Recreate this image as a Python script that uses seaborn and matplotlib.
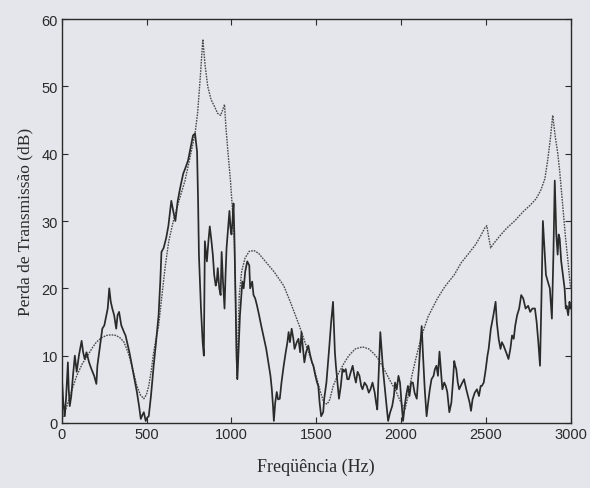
import numpy as np
import pandas as pd
import matplotlib
matplotlib.use("Agg")
import matplotlib.pyplot as plt
import seaborn as sns

# Measured transmission loss (noisy curve)
meas_f = [0, 8, 17, 25, 35, 40, 46, 55, 65, 76, 87, 100, 116, 125, 134, 145, 160, 174, 190, 203,
          209, 222, 238, 250, 262, 270, 279, 288, 297, 308, 320, 328, 337, 350, 366, 375, 384, 398,
          413, 428, 442, 455, 465, 475, 483, 494, 503, 512, 525, 541, 555, 570, 580, 587, 600, 615,
          628, 645, 657, 669, 683, 698, 715, 730, 744, 760, 773, 785, 797, 803, 808, 820, 830, 837,
          843, 855, 864, 872, 882, 890, 898, 907, 913, 919, 928, 936, 942, 950, 959, 965, 971, 980,
          988, 994, 1000, 1006, 1012, 1017, 1024, 1030, 1035, 1042, 1050, 1064, 1072, 1081, 1093,
          1105, 1110, 1122, 1130, 1140, 1150, 1163, 1175, 1192, 1205, 1221, 1230, 1238, 1245, 1250,
          1258, 1267, 1275, 1285, 1295, 1308, 1320, 1330, 1337, 1345, 1355, 1365, 1372, 1385, 1395,
          1405, 1413, 1420, 1430, 1440, 1453, 1465, 1475, 1483, 1495, 1505, 1512, 1520, 1529, 1541,
          1547, 1560, 1576, 1588, 1599, 1605, 1610, 1616, 1625, 1634, 1645, 1655, 1663, 1674, 1683,
          1692, 1703, 1715, 1725, 1734, 1744, 1755, 1765, 1773, 1785, 1798, 1810, 1820, 1832, 1845,
          1853, 1860, 1868, 1878, 1885, 1895, 1905, 1915, 1924, 1935, 1948, 1958, 1965, 1975, 1985,
          1994, 2003, 2012, 2022, 2030, 2041, 2050, 2060, 2070, 2080, 2093, 2105, 2115, 2122, 2130,
          2140, 2151, 2160, 2170, 2180, 2192, 2200, 2209, 2218, 2227, 2235, 2244, 2255, 2264, 2273,
          2285, 2297, 2306, 2314, 2320, 2326, 2335, 2343, 2352, 2362, 2372, 2385, 2395, 2405, 2413,
          2422, 2435, 2448, 2460, 2470, 2477, 2488, 2500, 2510, 2517, 2530, 2545, 2558, 2565, 2576,
          2587, 2595, 2605, 2620, 2634, 2645, 2655, 2665, 2674, 2685, 2697, 2709, 2721, 2735, 2750,
          2762, 2775, 2790, 2800, 2810, 2820, 2828, 2837, 2846, 2855, 2866, 2878, 2890, 2899, 2907,
          2916, 2924, 2930, 2936, 2945, 2955, 2965, 2972, 2977, 2986, 2994, 3000]
meas_db = [6.5, 3, 1, 4, 9, 5, 2.5, 4, 7, 10, 7.6, 10, 12.2, 10.5, 9.5, 10.5, 9, 8, 7, 5.8,
           8.5, 11, 14, 14.5, 16, 17, 20, 18, 17, 16, 14, 16, 16.5, 14.5, 13.5, 13, 12, 10.5,
           8.5, 6.5, 4.6, 2.5, 0.6, 1.2, 1.6, 0.3, 0.8, 1, 4, 8.5, 12, 16, 21, 25.4, 26, 27.5,
           29.3, 33, 31.4, 30, 33, 35, 37, 38, 39, 41, 42.7, 43, 40.3, 33, 25, 17, 12, 10,
           27, 24, 27, 29.2, 27, 25, 22, 20.4, 21, 23, 20, 19, 25.4, 21, 17, 22, 26, 29,
           31.5, 29, 28, 30, 32.6, 28, 18, 10, 6.5, 11, 16, 21, 20, 22.5, 24,
           23.4, 20, 21, 19, 18.5, 17.5, 16, 14.5, 12.5, 11, 8.5, 7, 5, 2.5, 0.3,
           3, 4.6, 3.5, 3.6, 6, 8.5, 10.5, 12, 13.5, 12, 14, 12.5, 11, 12, 12.5,
           10.5, 13.5, 11.5, 9, 10.5, 11.5, 10, 9, 8.5, 7, 6, 5.5, 3, 1, 1.6,
           3.6, 6, 11, 15, 18, 14, 10.5, 8.5, 6, 3.6, 5.5, 8, 7.6, 8, 6.5,
           6.5, 7.5, 8.5, 7, 6, 7.6, 7, 5.5, 5, 6, 5.5, 4.5, 5, 6, 4.5,
           3, 2, 7, 13.5, 11, 7.6, 5, 2.5, 0.3, 1.5, 2.5, 4, 6, 5, 7,
           6, 3, 0.3, 2.5, 4, 5.5, 4, 6, 6, 4.5, 3.6, 8, 12, 14.4, 10,
           5, 1, 3, 5, 6.5, 7, 8, 8.5, 7, 10.6, 8, 5, 6, 5.5, 4.6,
           1.6, 3, 6, 9.2, 8.5, 8, 6, 5, 5.5, 6, 6.5, 5, 4, 3, 1.8,
           3.5, 4.5, 5, 4, 5.5, 5.5, 6, 8, 10, 11, 14, 16, 18, 15, 12.5,
           11, 12, 11.5, 10.5, 9.5, 11, 13, 12.5, 14.5, 16, 17, 19, 18.5, 17, 17.4,
           16.5, 17, 17, 15, 12, 8.5, 18, 30, 26, 22, 21, 20, 15.5, 25, 36,
           28, 25, 28, 27.4, 24, 22, 20, 17, 17.4, 16, 18, 17]

# Theoretical transmission loss (smooth curve)
theo_f = [0, 29, 60, 87, 120, 151, 180, 203, 230, 262, 290, 320, 345, 366, 390, 407, 425, 442,
          462, 483, 498, 512, 527, 541, 555, 570, 590, 610, 630, 657, 690, 726, 760, 785, 800,
          815, 831, 845, 860, 880, 900, 918, 936, 948, 959, 967, 980, 994, 1005, 1017, 1025,
          1032, 1038, 1046, 1060, 1080, 1105, 1133, 1160, 1200, 1250, 1308, 1350, 1401, 1440,
          1483, 1520, 1545, 1565, 1580, 1600, 1630, 1660, 1692, 1730, 1773, 1810, 1840, 1866,
          1900, 1935, 1965, 1995, 2023, 2040, 2064, 2090, 2122, 2160, 2215, 2260, 2314, 2355,
          2400, 2440, 2470, 2495, 2506, 2518, 2529, 2545, 2580, 2622, 2670, 2721, 2760, 2797,
          2825, 2849, 2865, 2880, 2895, 2910, 2925, 2936, 2955, 2971, 2985, 3000]
theo_db = [0.5, 2.5, 5, 7, 8.8, 10, 11.2, 12, 12.6, 13, 13.1, 13, 12.6, 12, 10.5, 9, 7.2, 5.5,
           4.2, 3.6, 4.2, 5.5, 7.8, 10.5, 12.5, 14.4, 19, 23.4, 27, 30, 33, 36, 40, 43, 46,
           51, 57, 53, 50, 48, 47, 46, 45.7, 46.5, 47.3, 44, 40, 36, 32, 27, 18,
           6.5, 12, 19, 22.5, 24.5, 25.5, 25.6, 25.2, 24, 22.5, 20.4, 17.8, 14.4, 11.5,
           8.5, 5, 3, 2.8, 3.5, 5.5, 7.3, 8.7, 10, 11, 11.3, 11, 10.3, 9.5,
           8, 6.3, 5, 3.3, 2, 3.8, 7, 9.8, 13, 15.8, 18.5, 20.3, 22, 23.8,
           25.2, 26.5, 27.8, 29, 29.3, 27.5, 26, 26.6, 27.7, 28.9, 30, 31.4, 32.3, 33.3,
           34.6, 36.3, 39, 42, 45.7, 42.5, 40, 37.4, 32, 27.4, 24, 20]

x_ticks = [0, 500, 1000, 1500, 2000, 2500, 3000]
y_ticks = [0, 10, 20, 30, 40, 50, 60]
x_label = "Freqüência (Hz)"
y_label = "Perda de Transmissão (dB)"

meas = pd.DataFrame({"f": meas_f, "db": meas_db})
theo = pd.DataFrame({"f": theo_f, "db": theo_db})

sns.set_style("ticks")
paper = "#e4e6ec"
ink = "#2a2a2a"
plt.rcParams["font.family"] = ["Liberation Sans", "DejaVu Sans"]

fig = plt.figure(figsize=(5.9, 4.89), dpi=100, facecolor=paper)
ax = fig.add_axes([0.105, 0.133, 0.862, 0.826])
ax.set_facecolor(paper)

sns.lineplot(data=theo, x="f", y="db", ax=ax, color="#4a4a4a", lw=1.0,
             linestyle=(0, (1.2, 0.8)), estimator=None, sort=False)
sns.lineplot(data=meas, x="f", y="db", ax=ax, color=ink, lw=1.25,
             estimator=None, sort=False)

ax.set_xlim(0, 3000)
ax.set_ylim(0, 60)
ax.set_xticks(x_ticks)
ax.set_yticks(y_ticks)
ax.tick_params(direction="in", length=4, width=0.8, colors=ink, labelsize=10.5,
               top=True, right=True, labeltop=False, labelright=False, pad=3)
for s in ax.spines.values():
    s.set_color(ink)
    s.set_linewidth(1.0)
    s.set_visible(True)

ax.set_xlabel(x_label, family=["Liberation Serif", "DejaVu Serif"], fontsize=13,
              color=ink, labelpad=12)
ax.set_ylabel(y_label, family=["Liberation Serif", "DejaVu Serif"], fontsize=12.5,
              color=ink, labelpad=6)

fig.savefig("out.png", dpi=100, facecolor=paper)
